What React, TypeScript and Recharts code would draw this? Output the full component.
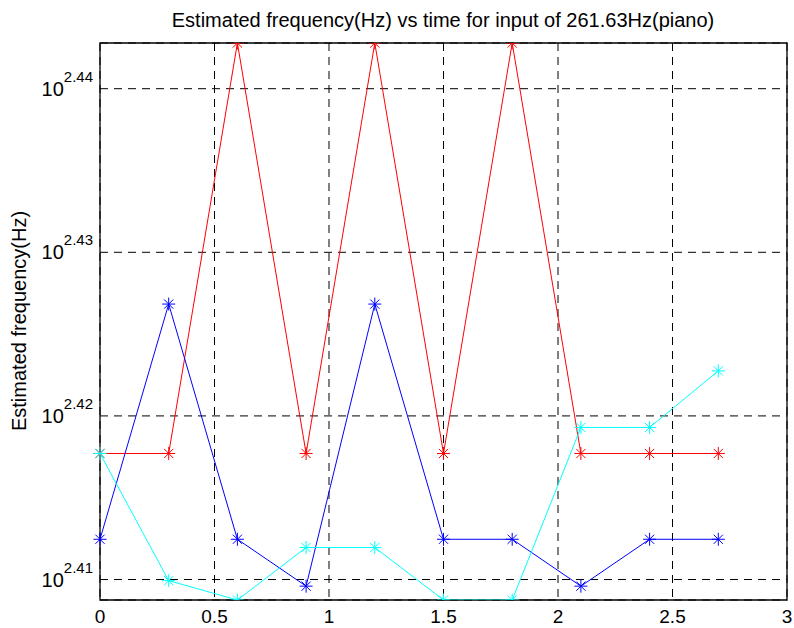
import React from "react";
import { LineChart, Line, XAxis, YAxis, CartesianGrid, ReferenceArea } from "recharts";

// time (s)
const times = [0, 0.3, 0.6, 0.9, 1.2, 1.5, 1.8, 2.1, 2.4, 2.7];
// estimated frequency (Hz)
const redSeries = [261.64, 261.64, 277.2, 261.64, 277.2, 261.64, 277.2, 261.64, 261.64, 261.64];
const blueSeries = [258.5, 267.2, 258.5, 256.8, 267.2, 258.5, 258.5, 256.8, 258.5, 258.5];
const cyanSeries = [261.64, 257.0, 256.3, 258.2, 258.2, 256.3, 256.3, 262.6, 262.6, 264.7];

const xTicks = [0, 0.5, 1, 1.5, 2, 2.5, 3];
const yExponents = ["2.41", "2.42", "2.43", "2.44"];
const yTicks = yExponents.map((e) => Math.pow(10, parseFloat(e)));
const yDomain = [256.3, 277.2];

const data = times.map((t, i) => ({
  t,
  red: redSeries[i],
  blue: blueSeries[i],
  cyan: cyanSeries[i],
}));

const FONT = "'Liberation Sans', Arial, sans-serif";

const Star = (color: string) => (props: any) => {
  const { cx, cy } = props;
  if (cx == null || cy == null) return null;
  const r = 6.5;
  const d = 4.6;
  return (
    <g stroke={color} strokeWidth={1} fill="none">
      <line x1={cx - r} y1={cy} x2={cx + r} y2={cy} />
      <line x1={cx} y1={cy - r} x2={cx} y2={cy + r} />
      <line x1={cx - d} y1={cy - d} x2={cx + d} y2={cy + d} />
      <line x1={cx - d} y1={cy + d} x2={cx + d} y2={cy - d} />
    </g>
  );
};

const XTick = (props: any) => {
  const { x, y, payload } = props;
  return (
    <text x={x} y={y + 23} textAnchor="middle" fontFamily={FONT} fontSize={19} fill="#000">
      {String(payload.value)}
    </text>
  );
};

const YTick = (props: any) => {
  const { x, y, payload } = props;
  const idx = yTicks.findIndex((v) => Math.abs(v - payload.value) < 1e-6);
  const exp = idx >= 0 ? yExponents[idx] : "";
  return (
    <text x={x - 7} y={y + 7} textAnchor="end" fontFamily={FONT} fontSize={20} fill="#000">
      10
      <tspan dy={-14} fontSize={15}>{exp}</tspan>
    </text>
  );
};

export default function App() {
  return (
    <div style={{ position: "absolute", left: 0, top: 0, width: 794, height: 628, background: "#fff" }}>
      <LineChart
        width={794}
        height={628}
        data={data}
        margin={{ top: 43, right: 7, bottom: 0, left: 0 }}
      >
        <CartesianGrid stroke="#000" strokeDasharray="8 6" strokeWidth={1} />
        <XAxis
          dataKey="t"
          type="number"
          domain={[0, 3]}
          ticks={xTicks}
          height={28}
          axisLine={false}
          tickLine={false}
          tickSize={0}
          tickMargin={0}
          tick={<XTick />}
          interval={0}
        />
        <YAxis
          type="number"
          scale="log"
          domain={yDomain}
          allowDataOverflow
          ticks={yTicks}
          width={100}
          axisLine={false}
          tickLine={false}
          tickSize={0}
          tickMargin={0}
          tick={<YTick />}
          interval={0}
        />
        <ReferenceArea
          x1={0}
          x2={3}
          y1={yDomain[0]}
          y2={yDomain[1]}
          fill="none"
          fillOpacity={0}
          stroke="#000"
          strokeWidth={1.3}
        />
        <Line dataKey="red" stroke="#ff0000" strokeWidth={1} dot={Star("#ff0000")} isAnimationActive={false} />
        <Line dataKey="blue" stroke="#0000ff" strokeWidth={1} dot={Star("#0000ff")} isAnimationActive={false} />
        <Line dataKey="cyan" stroke="#00ffff" strokeWidth={1} dot={Star("#00ffff")} isAnimationActive={false} />
      </LineChart>
      <svg
        width={794}
        height={628}
        style={{ position: "absolute", left: 0, top: 0, pointerEvents: "none" }}
      >
        <text
          x={443}
          y={27}
          textAnchor="middle"
          fontFamily={FONT}
          fontSize={20}
          fill="#000"
        >
          Estimated frequency(Hz) vs time for input of 261.63Hz(piano)
        </text>
        <text
          x={26}
          y={321}
          transform="rotate(-90 26 321)"
          textAnchor="middle"
          fontFamily={FONT}
          fontSize={20}
          fill="#000"
        >
          Estimated frequency(Hz)
        </text>
      </svg>
    </div>
  );
}
